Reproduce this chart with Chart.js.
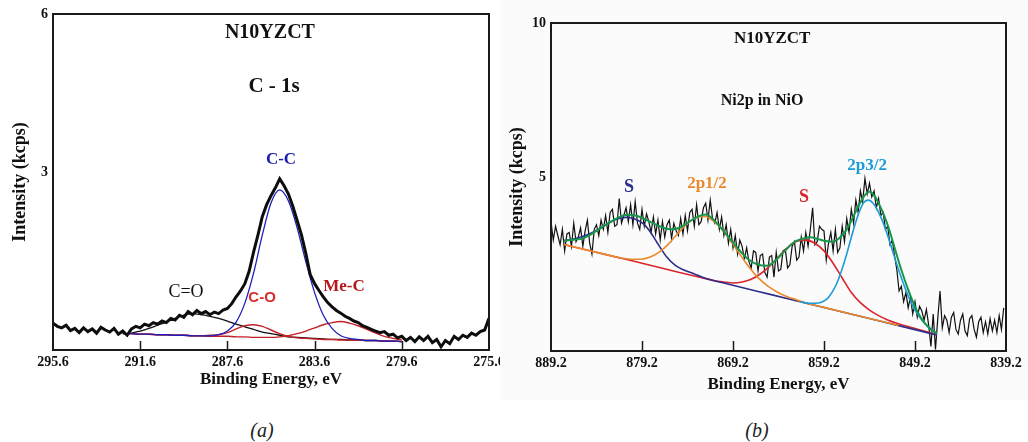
<!DOCTYPE html>
<html>
<head>
<meta charset="utf-8">
<script src="https://cdn.jsdelivr.net/npm/chart.js@4.4.1/dist/chart.umd.min.js"></script>
<style>
  body { margin: 0; background: #fff; width: 1028px; height: 442px; position: relative; overflow: hidden; }
  #chartA { position: absolute; left: 0; top: 0; }
  #chartB { position: absolute; left: 500px; top: 0; background: #fbfbfb; }
  .cap { position: absolute; top: 419px; width: 60px; text-align: center; font: italic 20px "Liberation Serif", serif; color: #222; }
</style>
</head>
<body>
<canvas id="chartA" width="510" height="400"></canvas>
<canvas id="chartB" width="528" height="400"></canvas>
<div class="cap" style="left:232px">(a)</div>
<div class="cap" style="left:727px">(b)</div>
<script>
// ---- (a) C 1s : measured spectrum, 295.6 -> 275.6 eV every 0.2 eV
const c1sStart = 295.6, c1sStep = 0.2;
const c1sCounts = [
  0.13, 0.07, 0.04, 0.09, -0.01, 0.03, -0.05, 0.04, -0.03, 0.02,
  -0.06, 0.05, 0.00, -0.04, 0.03, -0.08, -0.02, -0.10, 0.02, 0.07,
  0.04, 0.11, 0.08, 0.14, 0.11, 0.17, 0.14, 0.22, 0.19, 0.28,
  0.24, 0.35, 0.29, 0.37, 0.31, 0.35, 0.29, 0.34, 0.31, 0.38,
  0.41, 0.50, 0.63, 0.74, 0.88, 1.12, 1.48, 1.80, 2.15, 2.38,
  2.55, 2.70, 2.87, 2.74, 2.58, 2.35, 2.08, 1.80, 1.45, 1.05,
  0.88, 0.75, 0.63, 0.52, 0.44, 0.37, 0.32, 0.26, 0.22, 0.17,
  0.14, 0.08, 0.05, 0.01, -0.02, -0.05, -0.03, -0.10, -0.08, -0.15,
  -0.12, -0.20, -0.14, -0.22, -0.13, -0.20, -0.12, -0.24, -0.18, -0.32,
  -0.20, -0.26, -0.12, -0.18, -0.10, -0.14, -0.06, -0.10, -0.03, 0.00,
  0.22
];
// fitted components (a)
const c1sFitEnergy = [292.4, 292.0, 291.6, 291.2, 290.8, 290.4, 290.0, 289.6, 289.2, 288.8, 288.4,
  288.0, 287.6, 287.2, 286.8, 286.4, 286.0, 285.6, 285.2, 284.8, 284.4, 284.0, 283.6, 283.2,
  282.8, 282.4, 282.0, 281.6, 281.2, 280.8, 280.4, 280.0, 279.6];
const c1sCC = [-0.07, -0.07, -0.08, -0.08, -0.09, -0.09, -0.10, -0.10, -0.11, -0.11, -0.11,
  -0.09, -0.02, 0.15, 0.51, 1.08, 1.80, 2.41, 2.66, 2.45, 1.94, 1.29, 0.71, 0.28,
  0.03, -0.11, -0.16, -0.18, -0.20, -0.20, -0.21, -0.21, -0.22];
const c1sCO = [-0.07, -0.07, -0.08, -0.08, -0.09, -0.09, -0.10, -0.10, -0.11, -0.11, -0.10,
  -0.09, -0.05, 0.02, 0.08, 0.10, 0.07, 0.00, -0.07, -0.12, -0.15, -0.16, -0.17, -0.18,
  -0.18, -0.19, -0.19, -0.19, -0.20, -0.20, -0.21, -0.21, -0.22];
const c1sMeC = [-0.07, -0.07, -0.08, -0.08, -0.09, -0.09, -0.10, -0.10, -0.11, -0.11, -0.12,
  -0.12, -0.12, -0.13, -0.13, -0.14, -0.14, -0.14, -0.13, -0.11, -0.07, -0.02, 0.04, 0.10,
  0.14, 0.16, 0.13, 0.08, 0.01, -0.06, -0.12, -0.16, -0.19];
const c1sCdO = [-0.07, -0.06, -0.02, 0.03, 0.09, 0.15, 0.22, 0.28, 0.31, 0.29, 0.26,
  0.22, 0.17, 0.11, 0.06, 0.01, -0.04, -0.07, -0.10, -0.13, -0.14, -0.15, -0.16, -0.17,
  -0.18, -0.18, -0.19, -0.19, -0.20, -0.20, -0.21, -0.21, -0.22];
const c1sTicks = [295.6, 291.6, 287.6, 283.6, 279.6, 275.6];

// ---- (b) Ni 2p : measured spectrum, 889.2 eV downwards every 0.25 eV
const niStart = 889.2, niStep = 0.25;
const niCounts = [
  3.55, 2.95, 3.4, 3.1, 2.8, 3.3, 2.6, 3.15, 3.2, 2.75,
  3.5, 2.9, 3.05, 3.35, 2.75, 3.25, 3.6, 2.85, 2.5, 3.3,
  3.45, 3.1, 3.6, 3.3, 3.75, 3.2, 3.85, 3.95, 3.4, 3.45,
  4.3, 3.5, 3.75, 4.0, 3.55, 4.1, 3.45, 4.2, 3.5, 3.3,
  3.95, 3.4, 3.8, 3.55, 3.2, 3.7, 3.15, 3.6, 2.95, 3.55,
  3.05, 3.45, 3.6, 3.0, 3.5, 3.25, 3.1, 3.65, 3.15, 3.75,
  3.25, 3.85, 3.95, 3.4, 4.1, 3.45, 3.55, 4.0, 4.15, 3.6,
  4.25, 3.65, 3.5, 3.85, 3.3, 3.7, 3.1, 3.45, 2.85, 3.3,
  2.7, 3.1, 2.5, 2.95, 2.75, 2.35, 2.7, 2.25, 2.05, 2.6,
  2.55, 1.95, 2.45, 2.5, 1.9, 1.75, 2.4, 2.45, 1.75, 2.55,
  1.95, 2.0, 2.6, 2.65, 2.05, 2.15, 2.75, 2.9, 2.3, 2.4,
  3.05, 2.6, 3.2, 2.75, 3.3, 4.0, 2.8, 2.9, 3.4, 3.3,
  3.25, 2.3, 2.85, 3.2, 2.6, 3.3, 2.55, 2.7, 3.4, 2.9,
  3.65, 3.2, 3.95, 3.5, 4.25, 3.85, 4.55, 4.2, 4.95, 4.45,
  4.8, 4.35, 4.55, 4.0, 4.3, 3.75, 3.85, 3.3, 3.4, 2.8,
  2.95, 2.45, 2.0, 1.3, 1.45, 0.95, 1.25, 0.75, 1.1, 0.55,
  0.95, 0.45, 0.8, 0.65, 0.35, 0.7, 0.2, -0.5, 0.55, -0.6,
  0.4, 1.3, 0.1, 0.5, 0.35, -0.05, 0.45, 0.6, 0.05, -0.1,
  0.35, 0.55, 0.0, -0.15, 0.4, 0.5, 0.05, -0.2, 0.3, 0.45,
  -0.05, 0.3, -0.1, 0.4, 0.0, 0.35, -0.05, 0.5, 0.05, 0.75
];
// fitted components (b)
const niSatHiE = [887.8, 886.5, 885.0, 884.0, 883.0, 882.0, 881.0, 880.0, 879.0, 878.3, 877.5, 876.5,
  875.5, 874.6, 873.5, 872.5, 871.5, 870.0, 865.0, 860.0, 855.0, 850.0, 846.8];
const niSatHi = [2.93, 3.0, 3.15, 3.3, 3.48, 3.63, 3.69, 3.64, 3.47, 3.22, 2.85, 2.41,
  2.12, 1.98, 1.86, 1.74, 1.65, 1.54, 1.18, 0.82, 0.46, 0.10, -0.13];
const ni2p12E = [887.8, 884.3, 882.3, 881.3, 880.3, 879.3, 878.3, 877.3, 876.3, 875.3, 874.3, 873.3,
  872.3, 871.3, 870.3, 869.3, 868.3, 867.3, 866.3, 865.3, 864.3, 863.3, 862.3, 861.3, 859.0, 855.0, 851.0];
const ni2p12 = [2.81, 2.56, 2.42, 2.36, 2.33, 2.33, 2.40, 2.56, 2.82, 3.15, 3.47, 3.68,
  3.72, 3.56, 3.26, 2.86, 2.43, 2.02, 1.69, 1.44, 1.26, 1.12, 1.02, 0.92, 0.75, 0.46, 0.18];
const niSatLoE = [887.8, 884.0, 881.0, 879.2, 875.2, 872.2, 871.2, 870.2, 869.2, 868.2, 867.2, 866.2,
  865.2, 864.2, 863.2, 862.2, 861.2, 860.2, 859.2, 858.2, 857.2, 856.2, 855.2, 854.2, 853.2, 852.2,
  851.2, 850.2, 849.2, 848.0, 846.8];
const niSatLo = [2.81, 2.54, 2.33, 2.20, 1.91, 1.70, 1.63, 1.59, 1.56, 1.59, 1.68, 1.85,
  2.10, 2.41, 2.71, 2.91, 2.95, 2.85, 2.60, 2.20, 1.72, 1.25, 0.92, 0.68, 0.50, 0.36,
  0.25, 0.16, 0.08, -0.02, -0.12];
const ni2p32E = [861.8, 860.8, 859.8, 859.3, 858.8, 858.3, 857.8, 857.3, 856.8, 856.3, 855.8, 855.3,
  854.8, 854.3, 853.8, 853.3, 852.8, 852.3, 851.8, 851.3, 850.8, 850.3, 849.8, 849.3, 848.8, 848.3,
  847.8, 847.3, 846.8];
const ni2p32 = [0.95, 0.90, 0.91, 0.96, 1.06, 1.26, 1.54, 1.93, 2.40, 2.93, 3.45, 3.89,
  4.18, 4.25, 4.15, 3.92, 3.59, 3.18, 2.73, 2.26, 1.81, 1.40, 1.04, 0.73, 0.50, 0.30,
  0.16, 0.04, -0.08];
const niEnvE = [887.8, 886.8, 885.8, 884.8, 883.8, 882.8, 881.8, 880.8, 879.8, 879.0, 878.0, 877.0,
  876.0, 875.0, 874.0, 873.0, 872.2, 871.5, 870.5, 869.5, 868.5, 867.5, 866.5, 865.5, 864.5, 863.5,
  862.5, 861.5, 860.7, 859.8, 859.0, 858.2, 857.4, 856.7, 856.0, 855.3, 854.6, 854.2, 853.7, 853.2,
  852.6, 852.1, 851.4, 850.7, 849.9, 849.2, 848.6, 848.1, 847.5, 846.8];
const niEnv = [2.93, 2.96, 3.0, 3.14, 3.33, 3.52, 3.68, 3.77, 3.74, 3.65, 3.50, 3.37,
  3.30, 3.36, 3.55, 3.72, 3.78, 3.66, 3.34, 2.98, 2.62, 2.32, 2.16, 2.12, 2.30, 2.60,
  2.88, 3.00, 3.04, 2.98, 2.92, 2.90, 3.05, 3.30, 3.70, 4.12, 4.45, 4.52, 4.40, 4.15,
  3.75, 3.35, 2.66, 1.98, 1.30, 0.79, 0.45, 0.25, 0.06, -0.08];
const niTicks = [889.2, 879.2, 869.2, 859.2, 849.2, 839.2];

Chart.defaults.font.family = '"Liberation Serif", "Times New Roman", serif';
Chart.defaults.color = '#111';

// energy of every measured point
function energies(start, step, n) {
  const out = [];
  for (let i = 0; i < n; i++) out.push(+(start - i * step).toFixed(2));
  return out;
}
function pts(xs, ys) {
  return ys.map((y, i) => ({ x: xs[i], y: y }));
}
function line(data, color, width, smooth) {
  return {
    data: data, borderColor: color, borderWidth: width, pointRadius: 0, fill: false,
    tension: 0, cubicInterpolationMode: smooth ? 'monotone' : 'default'
  };
}

// frame, inner tick marks and text labels
const framePlugin = {
  id: 'frame',
  afterDatasetsDraw(chart, args, opts) {
    const { ctx, chartArea: a } = chart;
    const x = chart.scales.x, y = chart.scales.y;
    ctx.save();
    ctx.strokeStyle = '#1a1a1a';
    ctx.lineWidth = 2;
    ctx.strokeRect(a.left, a.top, a.right - a.left, a.bottom - a.top);
    ctx.lineWidth = 1.5;
    opts.innerTicks.forEach(v => {
      const px = Math.round(x.getPixelForValue(v)) + 0.5;
      ctx.beginPath();
      ctx.moveTo(px, a.bottom);
      ctx.lineTo(px, a.bottom - opts.tickLen);
      ctx.stroke();
    });
    ctx.textAlign = 'center';
    ctx.textBaseline = 'middle';
    opts.labels.forEach(l => {
      ctx.font = l.font;
      ctx.fillStyle = l.color;
      ctx.fillText(l.text, x.getPixelForValue(l.x), y.getPixelForValue(l.y));
    });
    ctx.restore();
  }
};

function makePanel(id, s) {
  return new Chart(document.getElementById(id), {
    type: 'line',
    data: { datasets: s.datasets },
    options: {
      responsive: false,
      animation: false,
      devicePixelRatio: 1,
      layout: { padding: s.padding },
      plugins: { legend: { display: false }, tooltip: { enabled: false }, frame: s.frame },
      scales: {
        x: {
          type: 'linear', reverse: true, min: s.xMin, max: s.xMax,
          afterBuildTicks: sc => { sc.ticks = s.xTicks.map(v => ({ value: v })); },
          afterFit: sc => { sc.height = s.xHeight; },
          ticks: {
            autoSkip: false, maxRotation: 0, padding: 4, color: '#111',
            font: { size: 14, weight: 'bold' },
            callback: v => v.toFixed(1)
          },
          grid: { display: false, drawTicks: false },
          border: { display: false },
          title: {
            display: true, text: 'Binding Energy, eV', color: '#111',
            font: { size: 17, weight: 'bold' }, padding: { top: 0, bottom: s.xTitlePad }
          }
        },
        y: {
          min: s.yMin, max: s.yMax,
          afterBuildTicks: sc => { sc.ticks = s.yTicks.map(v => ({ value: v })); },
          afterFit: sc => { sc.width = s.yWidth; },
          ticks: { padding: 5, color: '#111', font: { size: 14, weight: 'bold' } },
          grid: { display: false, drawTicks: false },
          border: { display: false },
          title: {
            display: true, text: 'Intensity (kcps)', color: '#111',
            font: { size: 18, weight: 'bold' }, padding: { top: s.yTitlePad, bottom: 0 }
          }
        }
      }
    },
    plugins: [framePlugin]
  });
}

// (a) C 1s
const c1sE = energies(c1sStart, c1sStep, c1sCounts.length);
makePanel('chartA', {
  padding: { left: 0, top: 14, right: 21, bottom: 0 },
  xMin: 275.6, xMax: 295.6, xTicks: c1sTicks, xHeight: 50, xTitlePad: 10,
  yMin: -0.38, yMax: 6, yTicks: [3, 6], yWidth: 53, yTitlePad: 10,
  datasets: [
    line(pts(c1sE, c1sCounts), '#0d0d0d', 3, false),
    line(pts(c1sFitEnergy, c1sCC), '#1f1fb8', 1.3, true),
    line(pts(c1sFitEnergy, c1sCO), '#c42026', 1.4, true),
    line(pts(c1sFitEnergy, c1sMeC), '#c42026', 1.4, true),
    line(pts(c1sFitEnergy, c1sCdO), '#111111', 1.3, true)
  ],
  frame: {
    innerTicks: [291.6, 287.6, 283.6, 279.6], tickLen: 9,
    labels: [
      { text: 'N10YZCT', x: 285.65, y: 5.64, color: '#111', font: 'bold 20px "Liberation Serif"' },
      { text: 'C - 1s', x: 285.46, y: 4.63, color: '#111', font: 'bold 21px "Liberation Serif"' },
      { text: 'C-C', x: 285.14, y: 3.23, color: '#1c1cb0', font: 'bold 17px "Liberation Serif"' },
      { text: 'C=O', x: 289.5, y: 0.72, color: '#111', font: '18px "Liberation Serif"' },
      { text: 'C-O', x: 286.01, y: 0.61, color: '#d92b2b', font: 'bold 15px "Liberation Sans"' },
      { text: 'Me-C', x: 282.25, y: 0.82, color: '#b5161b', font: 'bold 17px "Liberation Serif"' }
    ]
  }
});

// (b) Ni 2p in NiO
const niE = energies(niStart, niStep, niCounts.length);
makePanel('chartB', {
  padding: { left: 0, top: 23, right: 22, bottom: 0 },
  xMin: 839.2, xMax: 889.2, xTicks: niTicks, xHeight: 49, xTitlePad: 5,
  yMin: -0.65, yMax: 10, yTicks: [5, 10], yWidth: 51, yTitlePad: 7,
  datasets: [
    line(pts(niEnvE, niEnv), '#16964a', 2, true),
    line(pts(ni2p32E, ni2p32), '#1b9bd8', 1.6, true),
    line(pts(ni2p12E, ni2p12), '#e98a2c', 1.6, true),
    line(pts(niSatHiE, niSatHi), '#2e2e8c', 1.6, true),
    line(pts(niSatLoE, niSatLo), '#d9262e', 1.6, true),
    line(pts(niE, niCounts), '#111111', 1.2, false)
  ],
  frame: {
    innerTicks: [879.2, 869.2, 859.2, 849.2], tickLen: 10,
    labels: [
      { text: 'N10YZCT', x: 864.9, y: 9.48, color: '#111', font: 'bold 17px "Liberation Serif"' },
      { text: 'Ni2p in NiO', x: 866.0, y: 7.47, color: '#111', font: 'bold 16px "Liberation Serif"' },
      { text: 'S', x: 880.63, y: 4.68, color: '#2e2e8c', font: 'bold 18px "Liberation Serif"' },
      { text: '2p1/2', x: 872.06, y: 4.77, color: '#e98a2c', font: 'bold 17px "Liberation Serif"' },
      { text: 'S', x: 861.4, y: 4.35, color: '#d9262e', font: 'bold 18px "Liberation Serif"' },
      { text: '2p3/2', x: 854.47, y: 5.36, color: '#1b9bd8', font: 'bold 17px "Liberation Serif"' }
    ]
  }
});
</script>
</body>
</html>
